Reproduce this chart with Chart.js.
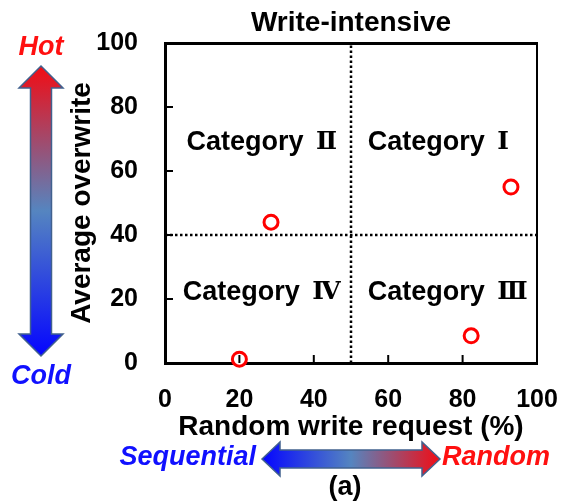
<!DOCTYPE html>
<html>
<head>
<meta charset="utf-8">
<script src="https://cdn.jsdelivr.net/npm/chart.js@4.4.0/dist/chart.umd.min.js"></script>
<style>
  html, body { margin: 0; padding: 0; background: #fff; }
  #wrap { width: 563px; height: 503px; position: relative; }
</style>
</head>
<body>
<div id="wrap"><canvas id="quadChart"></canvas></div>
<script>
// ===== Data =====
const randomPct = [20, 28.5, 93, 82.3];      // x: random write request (%)
const avgOverwrite = [1.2, 44, 55, 8.5];     // y: average overwrite

const xSplit = 50;
const ySplit = 40;

const categoryWord = 'Category ';
const categoryNums = ['\u2160', '\u2161', '\u2162', '\u2163'];
const categoryX = [73.5, 26, 76, 26];
const categoryY = [69, 69, 22, 22];

const FONT = "'Liberation Sans', Arial, sans-serif";
const NUM_FONT = "'DejaVu Serif', 'Noto Sans CJK JP', serif";

const points = randomPct.map((x, i) => ({ x: x, y: avgOverwrite[i] }));

// ===== Extra drawing: inner ticks, category labels, arrows =====
function drawArrow(ctx, pts, grad) {
    ctx.beginPath();
    pts.forEach((p, i) => i ? ctx.lineTo(p[0], p[1]) : ctx.moveTo(p[0], p[1]));
    ctx.closePath();
    ctx.fillStyle = grad;
    ctx.fill();
    ctx.lineWidth = 1.5;
    ctx.strokeStyle = '#41618e';
    ctx.stroke();
}

const decorPlugin = {
    id: 'decor',
    afterDraw(chart) {
        const ctx = chart.ctx;
        const xs = chart.scales.x, ys = chart.scales.y;
        const area = chart.chartArea;
        ctx.save();

        // inner tick marks
        ctx.strokeStyle = '#000';
        ctx.lineWidth = 2;
        [20, 40, 60, 80].forEach(v => {
            const py = ys.getPixelForValue(v);
            ctx.beginPath(); ctx.moveTo(area.left, py); ctx.lineTo(area.left + 8, py); ctx.stroke();
            const px = xs.getPixelForValue(v);
            ctx.beginPath(); ctx.moveTo(px, area.bottom); ctx.lineTo(px, area.bottom - 8); ctx.stroke();
        });

        // category labels (word + roman numeral)
        ctx.fillStyle = '#000';
        ctx.textBaseline = 'middle';
        ctx.textAlign = 'left';
        const wordFont = 'bold 27px ' + FONT;
        const numFont = 'bold 25px ' + NUM_FONT;
        const gap = 5;
        categoryNums.forEach((n, i) => {
            ctx.font = wordFont;
            const w1 = ctx.measureText(categoryWord).width + gap;
            ctx.font = numFont;
            const w2 = ctx.measureText(n).width;
            const cx = xs.getPixelForValue(categoryX[i]);
            const cy = ys.getPixelForValue(categoryY[i]);
            const x0 = cx - (w1 + w2) / 2;
            ctx.font = wordFont;
            ctx.fillText(categoryWord, x0, cy);
            ctx.font = numFont;
            ctx.fillText(n, x0 + w1, cy);
        });

        // vertical hot/cold arrow
        const cx = 41;
        let g = ctx.createLinearGradient(0, 66, 0, 356);
        g.addColorStop(0, '#f20c14');
        g.addColorStop(0.5, '#5585c0');
        g.addColorStop(1, '#0505ff');
        drawArrow(ctx, [
            [cx, 66], [cx + 22, 88], [cx + 10.5, 88], [cx + 10.5, 334], [cx + 22, 334],
            [cx, 356], [cx - 22, 334], [cx - 10.5, 334], [cx - 10.5, 88], [cx - 22, 88]
        ], g);

        // horizontal sequential/random arrow
        const cy = 459;
        g = ctx.createLinearGradient(262, 0, 440, 0);
        g.addColorStop(0, '#0505ff');
        g.addColorStop(0.5, '#5585c0');
        g.addColorStop(1, '#f20c14');
        drawArrow(ctx, [
            [262, cy], [280, cy - 17], [280, cy - 9], [422, cy - 9], [422, cy - 17],
            [440, cy], [422, cy + 17], [422, cy + 9], [280, cy + 9], [280, cy + 17]
        ], g);

        ctx.textAlign = 'center';
        ctx.font = 'italic bold 27px ' + FONT;
        ctx.fillStyle = '#ff1010';
        ctx.fillText('Hot', cx, 48);
        ctx.fillStyle = '#1010ff';
        ctx.fillText('Cold', cx, 377);
        ctx.textAlign = 'right';
        ctx.fillText('Sequential', 256, 458);
        ctx.textAlign = 'left';
        ctx.fillStyle = '#ff1010';
        ctx.fillText('Random', 442, 458);

        ctx.font = 'bold 27px ' + FONT;
        ctx.fillStyle = '#000';
        ctx.textAlign = 'center';
        ctx.fillText('(a)', 345, 488);
        ctx.restore();
    }
};

// ===== Chart =====
const edgeAxis = (position, width) => ({
    type: 'linear',
    display: true,
    position: position,
    min: 0,
    max: 100,
    ticks: { display: false },
    grid: { drawOnChartArea: false, drawTicks: false },
    border: { color: '#000', width: width }
});

const ctx = document.getElementById('quadChart').getContext('2d');
const quadChart = new Chart(ctx, {
    type: 'scatter',
    data: {
        datasets: [
            {
                data: points,
                pointStyle: 'circle',
                pointRadius: 7,
                pointBorderWidth: 3,
                borderColor: '#ff0000',
                backgroundColor: '#ffffff',
                clip: false,
                order: 0
            },
            {
                data: [{ x: xSplit, y: 0 }, { x: xSplit, y: 100 }],
                showLine: true,
                borderColor: '#000',
                borderWidth: 2.5,
                borderDash: [2.5, 2.5],
                pointRadius: 0,
                order: 1
            },
            {
                data: [{ x: 0, y: ySplit }, { x: 100, y: ySplit }],
                showLine: true,
                borderColor: '#000',
                borderWidth: 2.5,
                borderDash: [2.5, 2.5],
                pointRadius: 0,
                order: 1
            }
        ]
    },
    options: {
        responsive: true,
        maintainAspectRatio: false,
        animation: false,
        layout: { padding: { left: 60, right: 0, top: 0, bottom: 0 } },
        plugins: { legend: { display: false }, tooltip: { enabled: false } },
        scales: {
            x: {
                type: 'linear',
                position: 'bottom',
                min: 0,
                max: 100,
                ticks: { stepSize: 20, color: '#000', padding: 22, font: { family: FONT, size: 25, weight: 'bold' } },
                grid: { drawOnChartArea: false, drawTicks: false },
                border: { color: '#000', width: 3 },
                title: {
                    display: true,
                    text: 'Random write request (%)',
                    color: '#000',
                    font: { family: FONT, size: 28, weight: 'bold', lineHeight: 1.2 },
                    padding: { top: 0, bottom: 59 }
                },
                afterFit: s => { s.height = 140; s.paddingLeft = 0; s.paddingRight = 0; }
            },
            y: {
                type: 'linear',
                position: 'left',
                min: 0,
                max: 100,
                ticks: { stepSize: 20, color: '#000', padding: 27, font: { family: FONT, size: 25, weight: 'bold' } },
                grid: { drawOnChartArea: false, drawTicks: false },
                border: { color: '#000', width: 3 },
                title: {
                    display: true,
                    text: 'Average overwrite',
                    color: '#000',
                    font: { family: FONT, size: 28, weight: 'bold', lineHeight: 1.2 },
                    padding: { top: 5, bottom: 0 }
                },
                afterFit: s => { s.width = 105; s.paddingTop = 0; s.paddingBottom = 0; }
            },
            x2: Object.assign(edgeAxis('top', 3), {
                title: {
                    display: true,
                    text: 'Write-intensive',
                    color: '#000',
                    font: { family: FONT, size: 28, weight: 'bold', lineHeight: 1.2 },
                    padding: { top: 6, bottom: 0 }
                },
                afterFit: s => { s.height = 43; }
            }),
            y2: Object.assign(edgeAxis('right', 2), {
                afterFit: s => { s.width = 26; }
            })
        }
    },
    plugins: [decorPlugin]
});
</script>
</body>
</html>
